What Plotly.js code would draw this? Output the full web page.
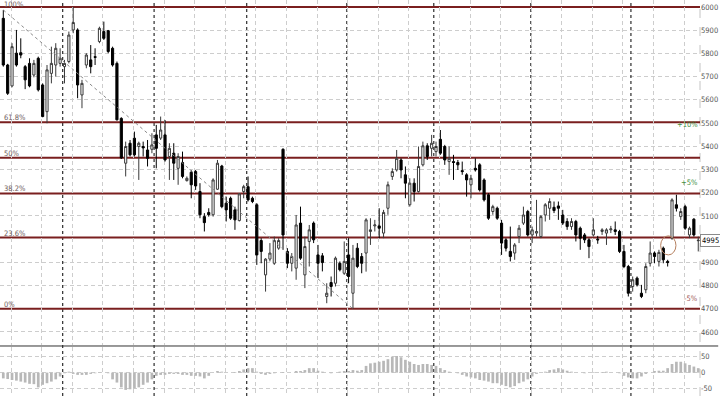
<!DOCTYPE html>
<html><head><meta charset="utf-8">
<script src="https://cdn.plot.ly/plotly-3.0.1.min.js"></script>
<style>html,body{margin:0;padding:0;background:#fff}#chart{width:720px;height:396px}</style>
</head><body><div id="chart"></div>
<script>
const openP = [5951,5750,5660,5801,5803,5743,5757,5707,5779,5664,5549,5714,5750,5757,5743,5765,5901,5901,5621,5750,5772,5786,5851,5894,5898,5822,5757,5520,
5327,5413,5435,5399,5399,5384,5387,5449,5435,5449,5356,5370,5305,
5330,5252,5288,5291,5205,5097,5115,5105,5215,5315,5155,5176,5126,5080,5205,5226,5176,5148,4994,4846,4914,4896,4961,5387,4947,4896,4875,5069,4846,4990,5069,4932,4928,4753,4813,4810,4896,4853,4932,4767,4961,
4925,4940,5033,5057,5057,5026,5133,5270,5298,5341,5277,5148,5241,5205,5320,5402,5391,5377,5430,5399,5334,5334,5330,5295,5277,5234,5305,5320,5255,5191,5119,5133,5069,4997,4947,4940,5011,5069,5119,5018,5026,
5011,5104,5133,5137,5143,5104,5076,5054,5076,5047,5018,4997,5018,5000,5033,5026,5040,5040,5033,4947,4882,4796,4832,4767,4782,4896,4940,4904,4961,4904,5004,5148,5097,5140,5018,5086,4993];
const highP = [5987,5755,5844,5901,5865,5750,5779,5772,5786,5671,5750,5829,5844,5822,5772,5894,6000,5908,5686,5801,5836,5822,5915,5937,5901,5829,5765,5525,
5420,5427,5463,5420,5420,5427,5456,5492,5528,5513,5413,5413,5370,
5377,5270,5298,5298,5241,5112,5133,5262,5341,5320,5183,5183,5140,5198,5234,5270,5183,5155,5004,4918,4983,5011,5004,5391,4961,4940,5104,5140,5011,5061,5076,4975,4940,4810,4839,4925,4904,4990,5004,4975,4983,
4940,5090,5090,5083,5133,5126,5248,5305,5384,5348,5313,5262,5262,5399,5420,5413,5449,5420,5470,5406,5399,5363,5341,5334,5284,5277,5348,5327,5262,5198,5148,5140,5083,5004,5054,4983,5061,5140,5126,5054,5169,
5104,5155,5176,5162,5162,5126,5090,5090,5083,5054,5026,5004,5090,5014,5047,5047,5057,5076,5040,4975,4889,4839,4839,4803,4896,4990,4947,4954,4968,4911,5176,5191,5133,5148,5054,5090,5011];
const lowP = [5743,5621,5654,5743,5779,5646,5654,5697,5636,5525,5499,5671,5700,5743,5671,5757,5887,5607,5564,5736,5714,5750,5844,5858,5801,5743,5511,5345,
5270,5356,5356,5255,5356,5313,5370,5305,5427,5334,5255,5255,5234,
5262,5248,5176,5212,5090,5033,5097,5097,5212,5133,5076,5083,5040,5076,5176,5162,5155,4889,4896,4774,4904,4889,4954,4954,4875,4861,4825,4911,4789,4882,4983,4832,4861,4724,4753,4796,4861,4846,4810,4700,4875,
4853,4860,4975,5033,5004,5004,5105,5255,5291,5262,5176,5140,5162,5201,5313,5341,5356,5356,5363,5320,5277,5255,5298,5277,5183,5176,5291,5205,5162,5083,5105,5083,4932,4947,4904,4911,4983,5061,5011,4983,5011,
5004,5076,5083,5112,5083,5061,5040,5040,4990,4954,4983,4918,5011,4980,5018,4975,5026,5018,4940,4875,4753,4774,4796,4746,4767,4882,4896,4882,4896,4882,4997,5119,5083,5040,5004,5011,4947];
const closeP = [5750,5628,5829,5750,5793,5686,5660,5757,5643,5528,5729,5757,5822,5779,5757,5879,5933,5664,5671,5793,5743,5783,5908,5865,5808,5750,5514,5350,
5399,5363,5363,5413,5393,5348,5406,5391,5470,5341,5391,5327,5356,
5270,5262,5234,5229,5105,5071,5105,5255,5327,5140,5126,5090,5083,5195,5226,5169,5162,4932,4947,4914,4940,4994,4994,5018,4896,4925,5061,4918,4968,5040,4997,4896,4899,4767,4796,4918,4868,4904,4839,4918,4882,
4896,5083,5040,5061,5047,5115,5234,5291,5348,5298,5241,5241,5205,5313,5402,5356,5413,5399,5370,5341,5348,5330,5320,5291,5255,5262,5298,5212,5169,5090,5140,5090,4983,4961,4925,4975,5047,5104,5018,5040,5033,
5097,5148,5162,5123,5133,5069,5054,5076,5018,5004,4997,4968,5040,4997,5040,5040,5044,5033,4947,4882,4767,4825,4803,4753,4882,4940,4925,4943,4911,4899,5169,5133,5119,5047,5047,5018,4995];
const oscValues = [-18,-20,-23,-25,-28,-31,-35,-36,-46,-38,
-33,-28,-21,-12,-2,3,-4,-7,-7,-7,
-4,-2,1,0,-2,-21,-31,-46,-54,-52,
-49,-46,-38,-31,-21,-10,-7,-7,-4,-4,
-4,-7,-7,-10,-10,-12,-18,-10,0,5,
3,0,0,2,5,10,14,14,3,-4,
-7,-4,-2,0,2,0,0,5,5,8,
14,14,6,3,0,-2,0,3,5,5,
8,6,
8,21,29,31,34,37,42,50,52,48,
40,34,27,24,27,27,24,21,14,8,
3,0,-2,-7,-12,-15,-18,-23,-25,-28,
-33,-33,-38,-42,-46,-42,-33,-28,-21,-12,
-4,0,3,8,10,14,10,6,3,0,
0,-2,0,2,0,2,3,0,0,
-2,-10,-15,-18,-18,-12,-4,0,5,6,
6,14,27,34,34,29,24,19,14];
const fibRatios = [1, 0.618, 0.5, 0.382, 0.236, 0];
const fibLabels = ['100%', '61.8%', '50%', '38.2%', '23.6%', '0%'];
const monthSeparators = [13.6, 34.5, 55.7, 78.6, 98.5, 120.7, 143.6];
const priceTicks = [4600,4700,4800,4900,5000,5100,5200,5300,5400,5500,5600,5700,5800,5900,6000];
const oscTicks = [-50, 0, 50];
const pctLevels = [10, 5, -5];
const pctLabels = ['+10%', '+5%', '-5%'];
const pctColors = ['#3f8f3f', '#3f8f3f', '#a05a5a'];
const trendStartBar = 0, trendEndBar = 80;

const bars = openP.map((_, i) => i);
const lastClose = closeP[closeP.length - 1];
const fibHigh = Math.max(...highP), fibLow = Math.min(...lowP);
const fibLevels = fibRatios.map(r => fibLow + r * (fibHigh - fibLow));
const gridPrices = priceTicks.filter(t => fibLevels.every(l => Math.abs(l - t) > 10));
const FONT = 'Liberation Sans Narrow, DejaVu Sans Condensed, Arial Narrow, Arial, sans-serif';
const X_RANGE = [-0.755, 159.4];
const Y_RANGE = [4544, 6030];
const Y2_RANGE = [-73, 80];
const FIG_H = 396, MAIN_DOMAIN = [0.1288, 1], OSC_DOMAIN = [0, 0.1237];
const GRID_START = 1.78, GRID_STEP = 7;
const GRID_COLOR = '#cdcdcd', GRID_DASH = '4px,3px';

// snap a horizontal grid line to a pixel centre (paper coordinates) so it renders crisply
function snapPaper(v, range, domain) {
  const top = FIG_H * (1 - domain[1]), h = FIG_H * (domain[1] - domain[0]);
  const px = top + (range[1] - v) / (range[1] - range[0]) * h;
  return 1 - (Math.floor(px) + 0.5) / FIG_H;
}

const traces = [
  {type: 'candlestick', x: bars, open: openP, high: highP, low: lowP, close: closeP,
   xaxis: 'x', yaxis: 'y', whiskerwidth: 0,
   increasing: {line: {color: '#3a3a3a', width: 1}, fillcolor: '#ffffff'},
   decreasing: {line: {color: '#000000', width: 1}, fillcolor: '#000000'},
   hoverinfo: 'skip'},
  {type: 'scatter', mode: 'lines', x: [trendStartBar, trendEndBar],
   y: [highP[trendStartBar], lowP[trendEndBar]], xaxis: 'x', yaxis: 'y',
   line: {color: '#8a8a8a', width: 1, dash: '3px,3px'}, hoverinfo: 'skip'},
  {type: 'bar', x: bars, y: oscValues, xaxis: 'x', yaxis: 'y2', width: 0.62,
   marker: {color: '#b8b8b8', line: {width: 0}}, hoverinfo: 'skip'}
];

const shapes = [];
const annotations = [];
const gridLine = {color: GRID_COLOR, width: 1, dash: GRID_DASH};
gridPrices.forEach(t => {
  const p = snapPaper(t, Y_RANGE, MAIN_DOMAIN);
  shapes.push({type: 'line', xref: 'paper', yref: 'paper', x0: 0, x1: 1, y0: p, y1: p, line: gridLine, layer: 'below'});
});
oscTicks.forEach(t => {
  const p = snapPaper(t, Y2_RANGE, OSC_DOMAIN);
  shapes.push({type: 'line', xref: 'paper', yref: 'paper', x0: 0, x1: 1, y0: p, y1: p, line: gridLine, layer: 'below'});
});
shapes.push({type: 'line', xref: 'paper', yref: 'paper', x0: 1, x1: 1, y0: 0, y1: 1,
  line: {color: '#c4c4c4', width: 1, dash: 'dash'}, layer: 'below'});
monthSeparators.forEach(m => shapes.push({type: 'line', xref: 'x', yref: 'paper', x0: m, x1: m, y0: 0, y1: 1,
  line: {color: '#000', width: 1, dash: 'dot'}, layer: 'below'}));
fibLevels.forEach((lvl, i) => {
  shapes.push({type: 'line', xref: 'paper', yref: 'y', x0: 0, x1: 1, y0: lvl, y1: lvl,
    line: {color: '#7a1f1f', width: 2}, layer: 'below'});
  annotations.push({xref: 'paper', yref: 'y', x: 0.004, y: lvl, xanchor: 'left', yanchor: 'bottom',
    yshift: i === 0 ? -3 : -1, borderpad: 0, text: fibLabels[i], showarrow: false,
    font: {family: FONT, size: 7.5, color: '#6e5a5a'}});
});
shapes.push({type: 'line', xref: 'paper', yref: 'paper', x0: 0, x1: 1.026, y0: 0.1263, y1: 0.1263,
  line: {color: '#333', width: 1}});
shapes.push({type: 'circle', xref: 'x', yref: 'y', x0: 150.4, x1: 153.9, y0: 4932, y1: 5014,
  line: {color: '#b5805f', width: 1}});
pctLevels.forEach((p, i) => annotations.push({xref: 'paper', yref: 'y', x: 1, y: lastClose * (1 + p / 100),
  xanchor: 'right', yanchor: 'middle', text: pctLabels[i], showarrow: false,
  font: {family: FONT, size: 7.5, color: pctColors[i]}}));
annotations.push({xref: 'paper', yref: 'y', x: 1, xshift: 0, y: lastClose, xanchor: 'left', yanchor: 'middle',
  text: String(lastClose), showarrow: false, bgcolor: '#fff', bordercolor: '#8a8a8a', borderwidth: 1, borderpad: 1,
  font: {family: FONT, size: 7.5, color: '#000'}});

const layout = {
  width: 720, height: FIG_H, margin: {l: 0, r: 20, t: 0, b: 0},
  paper_bgcolor: '#fff', plot_bgcolor: '#fff', showlegend: false, hovermode: false,
  font: {family: FONT, size: 7.5, color: '#555'},
  xaxis: {range: X_RANGE, showticklabels: false, ticks: '', tick0: GRID_START, dtick: GRID_STEP,
    showgrid: true, gridcolor: GRID_COLOR, griddash: GRID_DASH, gridwidth: 1, zeroline: false,
    rangeslider: {visible: false}, anchor: 'y2', showline: false},
  yaxis: {domain: MAIN_DOMAIN, range: Y_RANGE, side: 'right', tickmode: 'array', tickvals: priceTicks,
    ticktext: priceTicks.map(String), ticks: '', showgrid: false,
    zeroline: false, showline: false, tickfont: {family: FONT, size: 7.5, color: '#555'}, anchor: 'x'},
  yaxis2: {domain: OSC_DOMAIN, range: Y2_RANGE, side: 'right', tickvals: oscTicks,
    ticktext: oscTicks.map(String), ticks: '', showgrid: false,
    zeroline: false, showline: false, tickfont: {family: FONT, size: 7.5, color: '#555'}, anchor: 'x'},
  shapes: shapes, annotations: annotations, bargap: 0.3
};
Plotly.newPlot('chart', traces, layout, {staticPlot: true, displayModeBar: false});
</script></body></html>
